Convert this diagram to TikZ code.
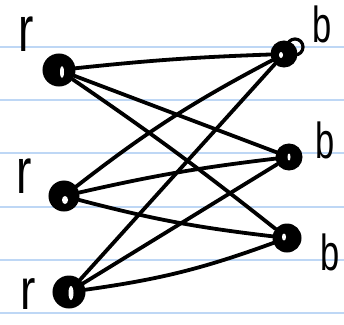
\documentclass[tikz,border=0pt]{standalone}
\usepackage{fontspec}
\setmainfont{Liberation Sans}
\begin{document}
\begin{tikzpicture}[x=1pt,y=-1pt,
  ruled/.style={draw={rgb,255:red,190;green,215;blue,245}, line width=1.6pt},
  vert/.style={circle, fill=black, draw=black, line width=2pt, minimum size=#1, inner sep=0pt},
  vert/.default=28pt,
  edge/.style={line width=3.8pt, line cap=round, draw=black},
  lab/.style={font=\fontsize{46}{46}\selectfont, inner sep=1pt},
  hl/.style={fill=white}]
\useasboundingbox (0,0) rectangle (344,324);
\foreach \y in {47,100,153,207,260,313} \draw[ruled] (0,\y) -- (344,\y);

% vertices
\node[vert=31pt] (L1) at (59,70) {};
\node[vert=29pt] (L2) at (64,196) {};
\node[vert=31pt] (L3) at (69,292) {};
\node[vert=25pt] (R1) at (284,54) {};
\node[vert=25pt] (R2) at (289,157) {};
\node[vert=27pt] (R3) at (287,238) {};
\draw[line width=3.2pt] (295,47) circle (8);

% highlights
\fill[hl] (L1) ++(3,2) ellipse [x radius=2, y radius=6];
\fill[hl] (L2) ++(1,4) ellipse [x radius=3, y radius=4];
\fill[hl] (L3) ++(2,1) ellipse [x radius=2.5, y radius=7];
\fill[hl] (R1) ++(-3,1) ellipse [x radius=2, y radius=3];
\fill[hl] (R2) ++(0,0) ellipse [x radius=1.5, y radius=3.5];
\fill[hl] (R3) ++(-3,-1) ellipse [x radius=2, y radius=3.5];

% labels
\node[lab] (rA) at (26,34) {\scalebox{1}[1.4]{r}};
\node[lab] (rB) at (24,176) {\scalebox{1}[1.4]{r}};
\node[lab] (rC) at (28,294) {\scalebox{1}[1.25]{r}};
\node[lab] (bA) at (322,24) {\scalebox{0.75}[1.1]{b}};
\node[lab] (bB) at (325,140) {\scalebox{0.75}[1.1]{b}};
\node[lab] (bC) at (330,252) {\scalebox{0.75}[1.1]{b}};

% edges
\draw[edge] (L1) to[bend left=2] (R1);
\draw[edge] (L1) -- (R2);
\draw[edge] (L1) to[bend left=2] (R3);
\draw[edge] (L2) to[bend left=5] (R1);
\draw[edge] (L2) to[bend left=3] (R2);
\draw[edge] (L2) to[bend right=4] (R3);
\draw[edge] (L3) -- (R1);
\draw[edge] (L3) -- (R2);
\draw[edge] (L3) to[bend right=6] (R3);
\end{tikzpicture}
\end{document}
